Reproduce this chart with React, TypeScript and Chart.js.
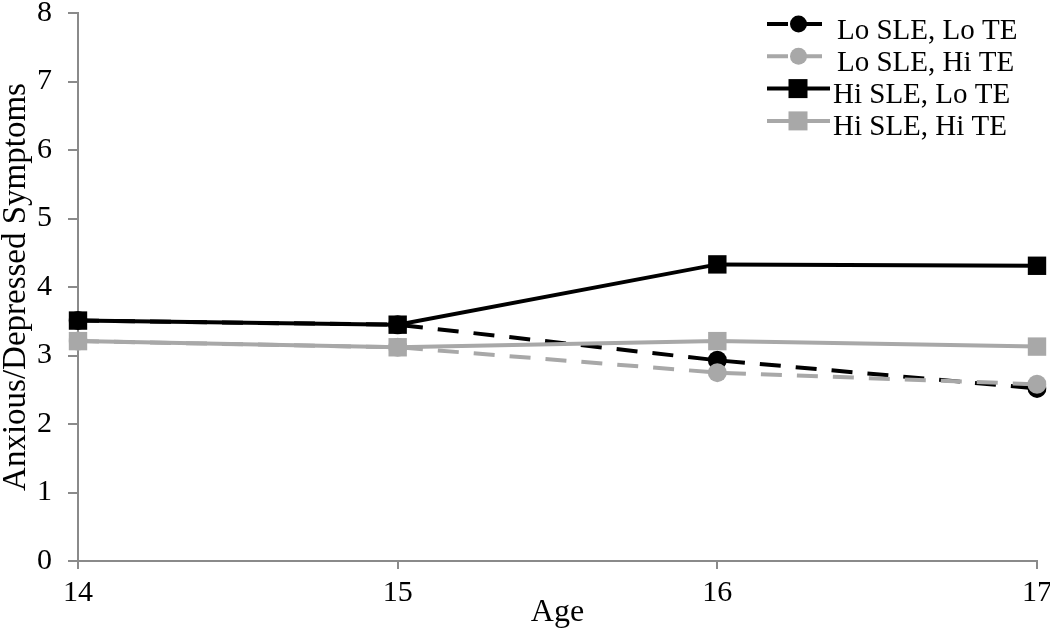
import React, { useEffect, useRef } from 'react';
import { Chart, registerables } from 'chart.js';

Chart.register(...registerables);

const ages = ['14', '15', '16', '17'];
const seriesLabels = ['Lo SLE, Lo TE', 'Lo SLE, Hi TE', 'Hi SLE, Lo TE', 'Hi SLE, Hi TE'];
const loSleLoTe = [3.51, 3.45, 2.93, 2.52];
const loSleHiTe = [3.21, 3.12, 2.75, 2.58];
const hiSleLoTe = [3.51, 3.45, 4.33, 4.31];
const hiSleHiTe = [3.21, 3.12, 3.21, 3.13];
const yMin = 0;
const yMax = 8;
const yStep = 1;

const BLACK = '#000000';
const GRAY = '#a8a8a8';
const AXIS = '#8a8a8a';
const FONT = '"Liberation Serif", "Times New Roman", serif';

const insideLegend = {
  id: 'insideLegend',
  afterDraw(chart: any) {
    const ctx = chart.ctx;
    const area = chart.chartArea;
    const x0 = area.right - 270;
    chart.data.datasets.forEach((ds: any, i: number) => {
      const y = area.top + 11 + i * 32.3;
      const isRect = ds.pointStyle === 'rect';
      const lineEnd = x0 + (isRect ? 63 : 55);
      ctx.save();
      ctx.strokeStyle = ds.borderColor;
      ctx.lineWidth = ds.borderWidth;
      ctx.setLineDash(ds.borderDash || []);
      ctx.beginPath();
      ctx.moveTo(x0, y);
      ctx.lineTo(lineEnd, y);
      ctx.stroke();
      ctx.setLineDash([]);
      ctx.fillStyle = ds.pointBackgroundColor;
      if (isRect) {
        const s = 19;
        ctx.fillRect(x0 + 31 - s / 2, y - s / 2, s, s);
      } else {
        ctx.beginPath();
        ctx.arc(x0 + 31.5, y, 8.5, 0, Math.PI * 2);
        ctx.fill();
      }
      ctx.fillStyle = '#000';
      ctx.font = `29px ${FONT}`;
      ctx.textBaseline = 'alphabetic';
      ctx.textAlign = 'left';
      ctx.fillText(ds.label, x0 + (isRect ? 66 : 70), y + 14.5);
      ctx.restore();
    });
  },
};

export default function App() {
  const ref = useRef<HTMLCanvasElement | null>(null);

  useEffect(() => {
    if (!ref.current) return;
    const dashed = [21, 15];
    const chart = new Chart(ref.current, {
      type: 'line',
      data: {
        labels: ages,
        datasets: [
          {
            label: seriesLabels[0], data: loSleLoTe, borderColor: BLACK, backgroundColor: BLACK,
            pointBackgroundColor: BLACK, pointBorderColor: BLACK, borderWidth: 4, borderDash: dashed,
            pointStyle: 'circle', pointRadius: 9.5, pointBorderWidth: 0, tension: 0, order: 2,
          },
          {
            label: seriesLabels[1], data: loSleHiTe, borderColor: GRAY, backgroundColor: GRAY,
            pointBackgroundColor: GRAY, pointBorderColor: GRAY, borderWidth: 4, borderDash: dashed,
            pointStyle: 'circle', pointRadius: 9.5, pointBorderWidth: 0, tension: 0, order: 1,
          },
          {
            label: seriesLabels[2], data: hiSleLoTe, borderColor: BLACK, backgroundColor: BLACK,
            pointBackgroundColor: BLACK, pointBorderColor: BLACK, borderWidth: 4,
            pointStyle: 'rect', pointRadius: 13, pointBorderWidth: 0, tension: 0, order: 0,
          },
          {
            label: seriesLabels[3], data: hiSleHiTe, borderColor: GRAY, backgroundColor: GRAY,
            pointBackgroundColor: GRAY, pointBorderColor: GRAY, borderWidth: 4,
            pointStyle: 'rect', pointRadius: 13, pointBorderWidth: 0, tension: 0, order: 0,
          },
        ],
      },
      options: {
        animation: false,
        responsive: true,
        maintainAspectRatio: false,
        layout: { padding: { left: 0, right: 13, top: 12, bottom: 0 } },
        plugins: {
          legend: { display: false },
          tooltip: { enabled: false },
        },
        scales: {
          x: {
            type: 'category',
            offset: false,
            grid: { display: true, drawOnChartArea: false, drawTicks: true, tickLength: 8, color: AXIS, lineWidth: 2 },
            border: { display: true, color: AXIS, width: 2 },
            ticks: { color: '#000', font: { family: FONT, size: 30 }, padding: 6, maxRotation: 0 },
            title: { display: true, text: 'Age', color: '#000', font: { family: FONT, size: 32 }, padding: { top: 0, bottom: 1 } },
            afterFit: (s: any) => { s.height = 72; s.paddingLeft = 0; s.paddingRight = 0; },
          },
          y: {
            min: yMin,
            max: yMax,
            grid: { display: true, drawOnChartArea: false, drawTicks: true, tickLength: 10, color: AXIS, lineWidth: 2 },
            border: { display: true, color: AXIS, width: 2 },
            ticks: { stepSize: yStep, color: '#000', font: { family: FONT, size: 30 }, padding: 16 },
            title: { display: true, text: 'Anxious/Depressed Symptoms', color: '#000', font: { family: FONT, size: 33 }, padding: { top: -3, bottom: 0 } },
            afterFit: (s: any) => { s.width = 78; s.paddingTop = 0; s.paddingBottom = 0; },
          },
        },
      },
      plugins: [insideLegend],
    });
    return () => chart.destroy();
  }, []);

  return (
    <div style={{ position: 'absolute', left: 0, top: 0, width: 1050, height: 633, background: '#fff' }}>
      <canvas ref={ref} />
    </div>
  );
}
